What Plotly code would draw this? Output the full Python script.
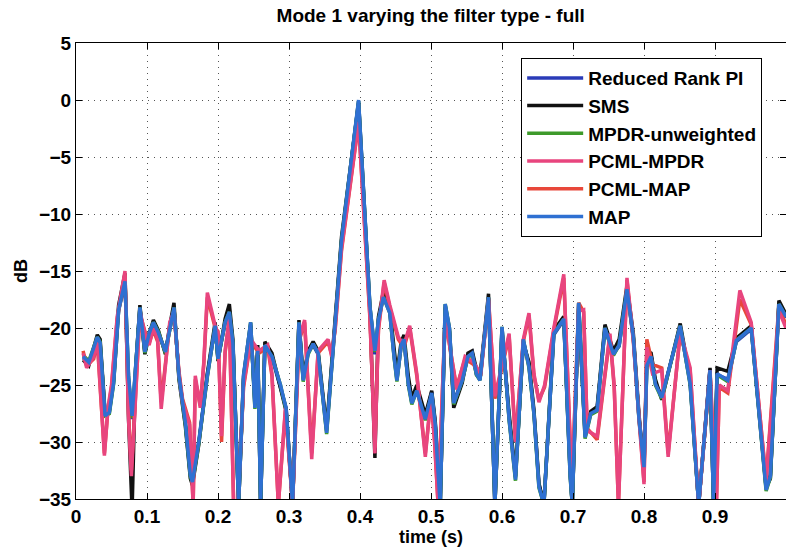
import plotly.graph_objects as go

title_text = "Mode 1 varying the filter type - full"
x_label = "time (s)"
y_label = "dB"
x_ticks = [0, 0.1, 0.2, 0.3, 0.4, 0.5, 0.6, 0.7, 0.8, 0.9, 1.0]
x_tick_labels = ["0", "0.1", "0.2", "0.3", "0.4", "0.5", "0.6", "0.7", "0.8", "0.9", "1"]
y_ticks = [5, 0, -5, -10, -15, -20, -25, -30, -35]

# time grid for the MVDR-like group (blue / black / green)
t_a = [0.010, 0.018, 0.030, 0.034, 0.041, 0.047, 0.053, 0.060, 0.069, 0.074,
       0.079, 0.084, 0.090, 0.097, 0.103, 0.109, 0.116, 0.126, 0.132, 0.138,
       0.145, 0.154, 0.161, 0.164, 0.173, 0.185, 0.196, 0.200, 0.210, 0.216,
       0.221, 0.229, 0.236, 0.246, 0.252, 0.256, 0.260, 0.266, 0.276, 0.288,
       0.296, 0.305, 0.314, 0.320, 0.327, 0.334, 0.341, 0.353, 0.365, 0.374,
       0.398, 0.409, 0.414, 0.421, 0.426, 0.433, 0.442, 0.448, 0.452, 0.458,
       0.462, 0.468, 0.473, 0.480, 0.492, 0.501, 0.506, 0.510, 0.513, 0.520,
       0.526, 0.532, 0.544, 0.552, 0.558, 0.564, 0.569, 0.581, 0.590, 0.600,
       0.610, 0.619, 0.630, 0.638, 0.645, 0.652, 0.659, 0.673, 0.687, 0.696,
       0.699, 0.708, 0.717, 0.725, 0.734, 0.745, 0.757, 0.765, 0.776, 0.785,
       0.793, 0.800, 0.804, 0.810, 0.816, 0.825, 0.851, 0.865, 0.877, 0.893,
       0.898, 0.903, 0.918, 0.930, 0.951, 0.972, 0.978, 0.990, 1.000]

map_db = [-22.5, -23.0, -20.8, -21.3, -27.7, -27.4, -24.8, -18.4, -15.9, -24.2,
          -27.7, -23.0, -18.2, -22.1, -20.5, -19.5, -20.4, -22.1, -20.0, -18.2,
          -24.2, -28.3, -32.9, -33.5, -30.0, -24.2, -19.8, -22.7, -19.5, -18.6,
          -21.3, -35.5, -24.2, -19.5, -27.0, -22.0, -35.5, -21.5, -22.5, -25.0,
          -27.1, -35.5, -19.5, -24.6, -22.2, -21.4, -22.2, -29.2, -19.6, -12.3,
          0.0, -12.3, -18.1, -22.0, -19.3, -17.3, -18.7, -22.5, -24.6, -21.5,
          -21.0, -24.9, -26.6, -25.5, -28.0, -25.7, -28.5, -32.7, -35.5, -17.9,
          -20.0, -26.6, -24.6, -22.5, -22.2, -24.0, -24.6, -17.3, -35.5, -19.9,
          -28.0, -33.3, -21.0, -23.4, -27.5, -33.9, -35.5, -20.5, -19.2, -33.0,
          -35.5, -17.8, -29.6, -27.5, -27.2, -20.0, -22.3, -21.5, -16.6, -20.8,
          -28.0, -32.2, -23.3, -22.5, -24.9, -26.1, -19.8, -24.9, -35.5, -23.7,
          -35.5, -24.0, -24.6, -21.1, -20.0, -34.2, -33.0, -17.9, -19.0]

rrpi_db = [-22.6, -23.1, -20.9, -21.4, -27.6, -27.3, -24.7, -18.5, -16.0, -24.5,
           -28.0, -23.1, -18.3, -22.0, -20.4, -19.6, -20.5, -22.0, -20.1, -18.3,
           -24.1, -28.2, -32.8, -33.4, -29.9, -24.1, -19.9, -22.6, -19.6, -18.5,
           -21.4, -35.5, -24.1, -19.6, -26.8, -21.9, -35.5, -21.6, -22.6, -25.1,
           -27.0, -35.5, -19.6, -24.5, -22.1, -21.5, -22.3, -29.0, -19.7, -12.4,
           -0.1, -12.4, -18.2, -22.3, -19.2, -17.2, -18.6, -22.4, -24.5, -21.6,
           -21.1, -24.8, -26.5, -25.4, -27.9, -25.6, -28.4, -32.5, -35.5, -18.0,
           -20.1, -26.5, -24.5, -22.4, -22.1, -24.1, -24.5, -17.4, -35.5, -20.0,
           -27.9, -33.1, -21.1, -23.3, -27.4, -33.7, -35.5, -20.6, -19.3, -32.8,
           -35.5, -17.9, -29.5, -27.4, -27.1, -20.1, -22.2, -21.6, -16.7, -20.9,
           -27.9, -32.0, -23.2, -22.4, -24.8, -26.0, -19.9, -24.8, -35.5, -23.6,
           -35.5, -24.1, -24.5, -21.2, -20.1, -34.0, -32.9, -18.0, -19.1]

sms_db = [-22.8, -23.3, -20.6, -21.0, -27.5, -27.2, -24.5, -18.0, -15.2, -28.0,
          -36.0, -23.5, -18.0, -22.3, -20.6, -19.3, -20.2, -22.3, -19.8, -17.8,
          -24.5, -28.6, -33.2, -33.8, -30.2, -24.0, -19.5, -22.9, -19.2, -17.9,
          -21.0, -35.5, -24.5, -19.8, -26.5, -21.5, -35.5, -21.2, -22.2, -25.3,
          -27.3, -35.5, -19.3, -24.4, -22.0, -21.2, -22.0, -28.8, -19.3, -12.0,
          -0.3, -12.5, -18.5, -31.4, -19.0, -16.8, -18.3, -21.8, -24.0, -21.2,
          -20.6, -24.2, -26.2, -25.0, -27.6, -25.5, -28.2, -32.3, -35.5, -18.2,
          -20.3, -27.0, -24.8, -22.2, -22.0, -23.6, -24.3, -17.0, -35.5, -20.3,
          -27.5, -33.0, -21.3, -23.0, -27.2, -33.6, -35.5, -20.2, -19.0, -32.6,
          -35.5, -18.3, -29.2, -27.3, -26.9, -19.7, -22.0, -21.0, -16.3, -20.5,
          -27.6, -32.6, -22.0, -22.2, -24.5, -26.3, -19.6, -24.5, -35.5, -23.5,
          -35.5, -23.5, -23.8, -20.9, -19.8, -34.0, -33.2, -17.6, -18.8]

mpdr_db = [-22.4, -22.9, -20.8, -21.2, -27.7, -27.5, -24.9, -18.4, -15.8, -24.3,
           -27.9, -23.0, -18.2, -22.2, -20.5, -19.5, -20.3, -22.2, -20.0, -18.2,
           -24.3, -28.4, -33.0, -33.6, -30.1, -24.3, -19.8, -22.8, -19.5, -18.6,
           -21.3, -35.5, -24.3, -19.5, -27.1, -22.1, -35.5, -21.5, -22.5, -25.0,
           -27.2, -35.5, -19.5, -24.7, -22.3, -21.4, -22.2, -29.3, -19.6, -12.3,
           -0.1, -12.3, -18.1, -22.1, -19.3, -17.3, -18.7, -22.6, -24.7, -21.5,
           -21.0, -25.0, -26.7, -25.5, -28.1, -25.8, -28.6, -32.8, -35.5, -17.9,
           -20.0, -26.7, -24.6, -22.6, -22.3, -24.1, -24.6, -17.3, -35.5, -19.9,
           -28.1, -33.4, -21.0, -23.5, -27.6, -34.0, -35.5, -20.5, -19.2, -33.1,
           -35.5, -17.8, -29.7, -27.6, -27.3, -20.0, -22.4, -21.5, -16.6, -20.8,
           -28.1, -32.3, -23.4, -22.6, -25.0, -26.2, -19.8, -25.0, -35.5, -23.8,
           -35.5, -24.1, -24.7, -21.1, -20.0, -34.3, -33.1, -17.9, -19.0]

# time grid for the PCML group (pink / red)
t_b = [0.010, 0.015, 0.025, 0.030, 0.035, 0.040, 0.045, 0.050, 0.058, 0.069,
       0.074, 0.078, 0.084, 0.090, 0.097, 0.103, 0.109, 0.115, 0.120, 0.126,
       0.132, 0.138, 0.145, 0.150, 0.160, 0.165, 0.168, 0.175, 0.180, 0.185,
       0.196, 0.200, 0.205, 0.210, 0.216, 0.222, 0.228, 0.236, 0.246, 0.258,
       0.270, 0.276, 0.285, 0.295, 0.305, 0.314, 0.322, 0.332, 0.341, 0.355,
       0.360, 0.365, 0.374, 0.398, 0.409, 0.414, 0.421, 0.426, 0.434, 0.442,
       0.454, 0.462, 0.470, 0.480, 0.492, 0.500, 0.505, 0.510, 0.520, 0.528,
       0.536, 0.548, 0.560, 0.570, 0.581, 0.590, 0.600, 0.610, 0.619, 0.630,
       0.638, 0.645, 0.652, 0.660, 0.673, 0.687, 0.696, 0.699, 0.708, 0.715,
       0.720, 0.734, 0.745, 0.752, 0.758, 0.764, 0.776, 0.785, 0.793, 0.800,
       0.804, 0.812, 0.825, 0.834, 0.851, 0.865, 0.877, 0.893, 0.902, 0.906,
       0.918, 0.935, 0.951, 0.972, 0.990, 1.000]

pcml_mpdr_db = [-22.2, -23.5, -22.5, -21.0, -26.0, -31.2, -27.0, -25.0, -19.0, -15.0,
                -28.0, -33.0, -26.0, -18.5, -20.5, -21.5, -20.0, -21.0, -27.1, -23.0,
                -19.5, -18.5, -24.0, -26.5, -28.5, -35.5, -24.2, -27.0, -23.0, -16.9,
                -19.8, -20.5, -29.5, -22.0, -19.0, -35.5, -35.5, -25.0, -21.0, -22.0,
                -21.5, -24.0, -35.5, -27.0, -35.5, -21.0, -19.3, -31.5, -22.0, -21.0,
                -22.5, -20.0, -13.0, -1.9, -13.0, -19.0, -31.0, -20.0, -15.8, -18.0,
                -20.8, -21.5, -19.8, -24.0, -31.3, -26.0, -30.0, -35.5, -19.0, -22.0,
                -25.4, -22.5, -23.0, -24.0, -17.6, -26.0, -23.1, -20.5, -30.0, -21.0,
                -18.7, -24.0, -26.5, -25.0, -20.0, -15.3, -30.0, -33.0, -18.5, -18.4,
                -29.0, -29.5, -24.0, -20.5, -25.0, -35.5, -15.6, -21.0, -28.0, -33.7,
                -21.7, -24.0, -23.7, -31.3, -20.3, -23.5, -35.5, -23.7, -35.5, -25.0,
                -25.5, -16.7, -19.5, -33.5, -18.5, -20.0]

pcml_map_db = [-22.0, -23.3, -22.7, -21.2, -26.2, -31.0, -27.2, -25.2, -19.2, -15.3,
               -27.5, -32.5, -25.8, -18.7, -20.3, -21.3, -20.2, -21.2, -26.5, -23.2,
               -19.7, -18.7, -23.8, -26.2, -28.3, -35.5, -24.5, -26.8, -23.2, -17.3,
               -20.0, -20.3, -30.0, -22.2, -19.2, -35.5, -35.5, -25.2, -21.2, -22.2,
               -21.7, -24.2, -35.5, -27.2, -35.5, -21.2, -19.5, -31.0, -22.2, -21.2,
               -22.3, -20.2, -13.2, -2.0, -13.2, -19.2, -30.5, -20.2, -16.0, -18.2,
               -21.0, -21.7, -20.0, -24.2, -31.0, -26.2, -29.8, -35.5, -19.2, -22.2,
               -25.2, -22.7, -23.2, -24.2, -17.4, -26.2, -23.3, -20.7, -29.8, -21.2,
               -18.9, -24.2, -26.3, -25.2, -20.2, -15.6, -29.8, -33.0, -17.8, -18.6,
               -28.8, -29.8, -24.2, -20.7, -25.2, -35.5, -15.8, -21.2, -27.8, -33.5,
               -21.0, -23.2, -23.5, -31.0, -20.5, -23.7, -35.5, -23.9, -35.5, -25.2,
               -25.7, -17.5, -19.7, -33.3, -18.0, -19.8]

# (name, time, values, colour, legend rank); drawn in list order
series = [
    ("Reduced Rank PI", t_a, rrpi_db, "#2a3bb8", 1),
    ("SMS", t_a, sms_db, "#111111", 2),
    ("MPDR-unweighted", t_a, mpdr_db, "#3d9a2a", 3),
    ("PCML-MAP", t_b, pcml_map_db, "#e8473a", 5),
    ("PCML-MPDR", t_b, pcml_mpdr_db, "#e8457e", 4),
    ("MAP", t_a, map_db, "#2f70d2", 6),
]

fig = go.Figure()
for name, t, v, c, rank in series:
    fig.add_trace(go.Scatter(x=t, y=v, mode="lines", name=name, legendrank=rank,
                             line=dict(color=c, width=3.5)))

font_fam = "Liberation Sans, Arial, sans-serif"
fig.update_layout(
    width=786, height=552,
    margin=dict(l=76, r=0, t=43, b=53),
    paper_bgcolor="white", plot_bgcolor="white",
    title=dict(text=title_text, x=0.548, xanchor="center", y=0.972, yanchor="middle",
               font=dict(family=font_fam, size=19, color="black", weight="bold")),
    legend=dict(x=0.627, y=0.967, xanchor="left", yanchor="top",
                bgcolor="white", bordercolor="black", borderwidth=1,
                font=dict(family=font_fam, size=19, color="black", weight="bold"),
                tracegroupgap=0, itemwidth=56),
    showlegend=True,
)
grid_style = dict(showgrid=True, gridcolor="#555555", griddash="1px,5px", gridwidth=1.2)
fig.update_xaxes(range=[0, 1], tickvals=x_ticks, ticktext=x_tick_labels,
                 ticks="inside", ticklen=6, tickcolor="black",
                 showline=True, linecolor="black", linewidth=1, mirror="ticks",
                 zeroline=False, **grid_style,
                 tickfont=dict(family=font_fam, size=19, color="black", weight="bold"),
                 title=dict(text=x_label, standoff=4,
                            font=dict(family=font_fam, size=18, color="black", weight="bold")))
fig.update_yaxes(range=[-35, 5], tickvals=y_ticks,
                 ticks="inside", ticklen=6, tickcolor="black",
                 showline=True, linecolor="black", linewidth=1, mirror="ticks",
                 zeroline=False, **grid_style,
                 tickfont=dict(family=font_fam, size=19, color="black", weight="bold"),
                 title=dict(text=y_label, standoff=6,
                            font=dict(family=font_fam, size=18, color="black", weight="bold")))

fig.write_html("out.html")
